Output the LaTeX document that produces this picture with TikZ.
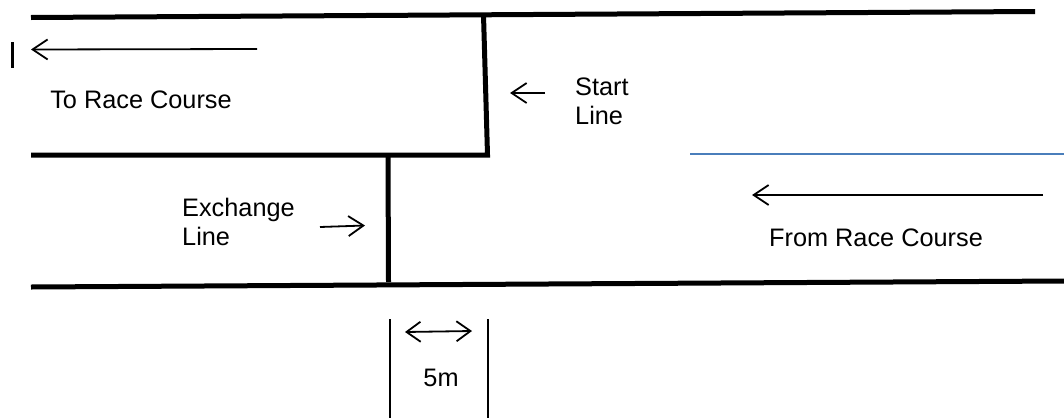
\documentclass[tikz,border=0pt]{standalone}
\usepackage{fontspec}
\setmainfont{Liberation Sans}
\usetikzlibrary{arrows.meta}
\definecolor{laneblue}{HTML}{4A7EBB}
\begin{document}
\begin{tikzpicture}[x=1pt,y=-1pt,
  boundary/.style={line width=5pt},
  lane/.style={line width=2.2pt,draw=laneblue},
  thinline/.style={line width=1.8pt},
  dirarrow/.style={line width=1.8pt,-{Straight Barb[length=15pt,width=20pt,line width=1.8pt]}},
  dimarrow/.style={line width=1.8pt,{Straight Barb[length=14pt,width=20pt,line width=1.8pt]}-{Straight Barb[length=14pt,width=20pt,line width=1.8pt]}},
  lbl/.style={font=\fontsize{25.3}{29}\selectfont,inner sep=0pt,align=left}]
\useasboundingbox (0,0) rectangle (1064,418);
% coordinates
\coordinate (TL) at (31,17.5);
\coordinate (TR) at (1035,11.5);
\coordinate (ST) at (483.5,15);
\coordinate (SB) at (487.5,155);
\coordinate (ML) at (31,155);
\coordinate (ET) at (388,155);
\coordinate (EB) at (388.5,282);
\coordinate (BL) at (31,287);
\coordinate (BR) at (1064,281);
\coordinate (BlL) at (690,154);
\coordinate (BlR) at (1064,154);
% boundaries
\draw[boundary] (TL) -- (TR);
\draw[boundary] (ML) -- (SB) -- (ST);
\draw[boundary] (ET) -- (EB);
\draw[boundary] (BL) -- (BR);
\draw[lane] (BlL) -- (BlR);
% top-left arrow and bar
\coordinate (A1s) at (257,49);
\coordinate (A1e) at (31,49.5);
\draw[dirarrow] (A1s) -- (A1e);
\coordinate (Bar1) at (12,42);
\coordinate (Bar2) at (12,68);
\draw[line width=3pt] (Bar1) -- (Bar2);
% labels
\node[lbl] (torace) at (141,100) {To Race Course};
\node[lbl] (fromrace) at (876,238) {From Race Course};
\node[lbl,anchor=west] (start) at (575,101) {Start\\Line};
\node[lbl,anchor=west] (exch) at (182,222) {Exchange\\Line};
\node[lbl] (five) at (441,378) {5m};
% start arrow
\coordinate (A2s) at (545,93);
\coordinate (A2e) at (510,93);
\draw[dirarrow] (A2s) -- (A2e);
% exchange arrow
\coordinate (A3s) at (320,227);
\coordinate (A3e) at (365,225.5);
\draw[dirarrow] (A3s) -- (A3e);
% right arrow
\coordinate (A4s) at (1043,195);
\coordinate (A4e) at (752,195);
\draw[dirarrow] (A4s) -- (A4e);
% 5m dimension
\coordinate (D1t) at (390,319);
\coordinate (D1b) at (390,418);
\coordinate (D2t) at (488,319);
\coordinate (D2b) at (488,418);
\draw[thinline] (D1t) -- (D1b);
\draw[thinline] (D2t) -- (D2b);
\coordinate (A5s) at (405,332);
\coordinate (A5e) at (472,331);
\draw[dimarrow] (A5s) -- (A5e);
\end{tikzpicture}
\end{document}
